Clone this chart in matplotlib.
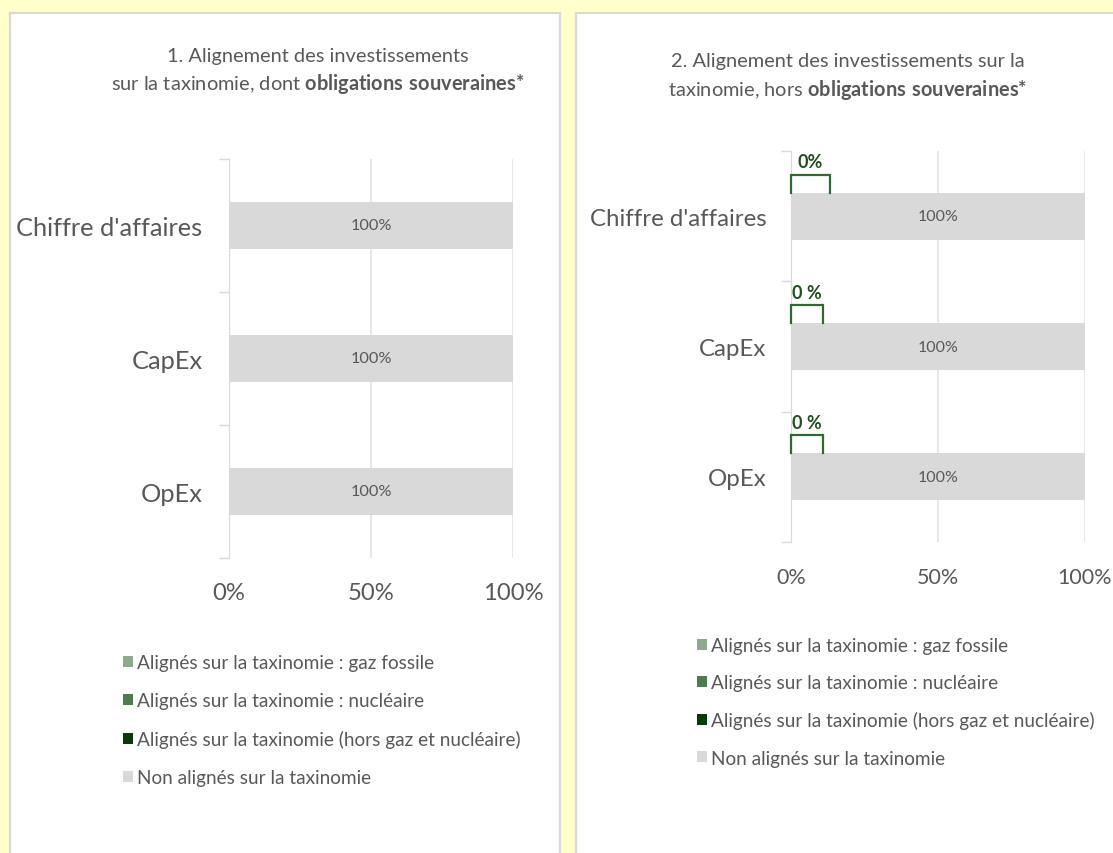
import matplotlib
matplotlib.use("Agg")
import matplotlib.pyplot as plt
from matplotlib.patches import Rectangle, Patch
import numpy as np

plt.rcParams['font.family'] = ['Lato', 'DejaVu Sans']
plt.rcParams['mathtext.fontset'] = 'custom'
plt.rcParams['mathtext.rm'] = 'Lato'
plt.rcParams['mathtext.bf'] = 'Lato:bold'

# ---------------- data ----------------
categories = ["Chiffre d'affaires", "CapEx", "OpEx"]
series_names = ["Alignés sur la taxinomie : gaz fossile",
                "Alignés sur la taxinomie : nucléaire",
                "Alignés sur la taxinomie (hors gaz et nucléaire)",
                "Non alignés sur la taxinomie"]
series_colors = ["#8DAA8D", "#4E7C4E", "#0A3A0A", "#D9D9D9"]

p1_gaz = [0, 0, 0]
p1_nuc = [0, 0, 0]
p1_hors = [0, 0, 0]
p1_non = [100, 100, 100]

p2_gaz = [0, 0, 0]
p2_nuc = [0, 0, 0]
p2_hors = [0, 0, 0]
p2_non = [100, 100, 100]

p2_callouts = ["0%", "0 %", "0 %"]

xticks = [0, 50, 100]
xticklabels = ["0%", "50%", "100%"]

title1 = "1. Alignement des investissements\nsur la taxinomie, dont $\\mathbf{obligations\\ souveraines{*}}$"
title2 = "2. Alignement des investissements sur la\ntaxinomie, hors $\\mathbf{obligations\\ souveraines{*}}$"

# ---------------- figure ----------------
W, H = 1113, 854
fig = plt.figure(figsize=(W / 100, H / 100), dpi=100)
fig.patch.set_facecolor("#FFFFCC")

def px(x, y, w, h):
    return [x / W, 1 - (y + h) / H, w / W, h / H]

# panels (white boxes)
for (x0, y0, x1, y1) in [(10, 14, 560, 870), (576, 14, 1130, 870)]:
    fig.patches.append(Rectangle((x0 / W, 1 - y1 / H), (x1 - x0) / W, (y1 - y0) / H,
                                 transform=fig.transFigure, facecolor="white",
                                 edgecolor="#D9D9D9", linewidth=1.6, zorder=-5))

TXT = "#595959"

def draw_panel(rect, data, bar_h, pad_y, pad_x, cat_fs, tick_fs, lbl_fs):
    ax = fig.add_axes(rect, zorder=2)
    ax.set_facecolor("none")
    y = np.arange(len(categories))
    left = np.zeros(len(categories))
    containers = []
    for vals, name, col in zip(data, series_names, series_colors):
        c = ax.barh(y, vals, left=left, height=bar_h, color=col, label=name, zorder=2)
        containers.append(c)
        left = left + np.array(vals)
    ax.bar_label(containers[-1], labels=[f"{v:.0f}%" for v in data[-1]],
                 label_type="center", color=TXT, fontsize=lbl_fs, zorder=3)
    ax.set_xlim(0, 100)
    ax.set_ylim(len(categories) - 0.5, -0.5)
    ax.set_xticks(xticks, xticklabels)
    ax.set_yticks(y, categories)
    ax.set_yticks(np.arange(len(categories) + 1) - 0.5, minor=True)
    ax.tick_params(axis="y", which="major", length=0, pad=pad_y, labelsize=cat_fs, labelcolor=TXT)
    ax.tick_params(axis="y", which="minor", length=7, color="#D9D9D9", width=1)
    ax.tick_params(axis="x", length=0, pad=pad_x, labelsize=tick_fs, labelcolor=TXT)
    for s in ["top", "right", "bottom"]:
        ax.spines[s].set_visible(False)
    ax.spines["left"].set_color("#D9D9D9")
    ax.grid(axis="x", color="#E3E3E3", linewidth=1.2, zorder=0)
    ax.set_axisbelow(True)
    return ax

ax1 = draw_panel(px(229, 160, 284, 399),
                 [p1_gaz, p1_nuc, p1_hors, p1_non], 0.35, 19, 17, 18.3, 17.2, 11.8)
ax2 = draw_panel(px(791, 152, 294, 391),
                 [p2_gaz, p2_nuc, p2_hors, p2_non], 0.36, 17.5, 18, 17.3, 15.5, 11.5)

# callouts on panel 2 (anchored at the aligned value of each bar)
GREEN = "#2F6B2F"
bh = 0.36
inv = ax2.transData.inverted()
for i, (lab, v) in enumerate(zip(p2_callouts, p2_hors)):
    wpx = 39 if i == 0 else 32
    disp0 = ax2.transData.transform((v, i - bh / 2))
    xs, ys = [], []
    for dx, dy in [(0, 0), (0, 18), (wpx, 18), (wpx, 0)]:
        xd, yd = inv.transform((disp0[0] + dx, disp0[1] + dy))
        xs.append(xd); ys.append(yd)
    ax2.plot(xs, ys, color=GREEN, linewidth=1.6, clip_on=False, zorder=4,
             solid_joinstyle="miter")
    tx, ty = inv.transform((disp0[0] + wpx / 2, disp0[1] + 31))
    ax2.text(tx, ty, lab, ha="center", va="center", fontsize=13, fontweight="bold",
             color="#1F4F1F", zorder=4, clip_on=False)

# titles
fig.text(318 / W, 1 - 72 / H, title1, ha="center", va="center", fontsize=14.4,
         color=TXT, linespacing=1.4)
fig.text(848 / W, 1 - 77.5 / H, title2, ha="center", va="center", fontsize=14.4,
         color=TXT, linespacing=1.4)

# legends
handles = [Patch(facecolor=c, edgecolor="none") for c in series_colors]
for (lx, ly, sp) in [(123, 655, 1.1), (697, 638, 1.06)]:
    fig.legend(handles, series_names, loc="upper left",
               bbox_to_anchor=(lx / W, 1 - ly / H), frameon=False,
               fontsize=13.7, labelcolor=TXT, handlelength=0.5, handleheight=0.5,
               handletextpad=0.22, labelspacing=sp, borderpad=0, borderaxespad=0)

fig.savefig("out.png", dpi=100, facecolor=fig.get_facecolor())
